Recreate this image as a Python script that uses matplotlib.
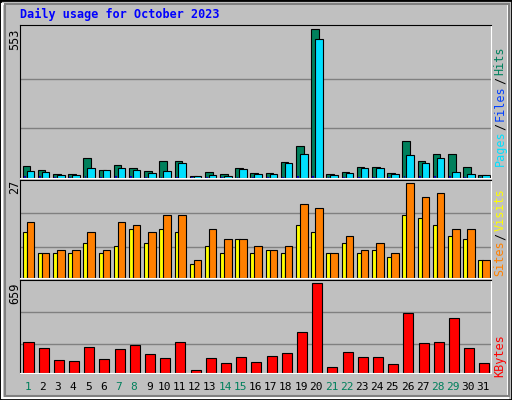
import matplotlib.pyplot as plt
import numpy as np
from matplotlib.patches import Rectangle

days = np.arange(1, 32)
hits = [46, 31, 16, 16, 74, 31, 50, 39, 27, 65, 65, 9, 24, 16, 39, 20, 20, 61, 118, 553,
        16, 24, 42, 42, 20, 136, 65, 91, 91, 42, 12]
files = [27, 24, 12, 12, 39, 31, 39, 31, 20, 27, 57, 9, 12, 9, 35, 16, 16, 57, 91, 519,
         12, 20, 39, 39, 16, 87, 57, 76, 24, 16, 12]
pages = [6, 6, 4, 4, 6, 4, 6, 6, 5, 5, 5, 3, 4, 4, 5, 4, 4, 5, 7, 7,
         4, 5, 5, 5, 4, 7, 6, 6, 6, 5, 4]
visits = [16, 7, 8, 8, 13, 8, 16, 15, 13, 18, 18, 5, 14, 11, 11, 9, 8, 9, 21, 20,
          7, 12, 8, 10, 7, 27, 23, 24, 14, 14, 5]
sites = [13, 7, 7, 7, 10, 7, 9, 14, 10, 14, 13, 4, 9, 7, 11, 7, 8, 7, 15, 13,
         7, 10, 7, 8, 6, 18, 17, 15, 12, 11, 5]
kbytes = [226, 183, 96, 89, 190, 103, 176, 204, 139, 111, 226, 24, 111, 75, 118, 82, 125, 147, 298, 659,
          46, 154, 118, 118, 67, 435, 219, 226, 399, 183, 75]
weekend = [1, 7, 8, 14, 15, 21, 22, 28, 29]

W, H = 512, 400
fig = plt.figure(figsize=(W / 100, H / 100), dpi=100)
fig.patch.set_facecolor('#C0C0C0')
mono = 'DejaVu Sans Mono'

# 3D-ish frame around the image
fig.add_artist(Rectangle((0, 0), 1, 1, transform=fig.transFigure, fill=False, ec='black', lw=2))
fig.add_artist(Rectangle((2 / W, 2 / H), 1 - 6 / W, 1 - 6 / H, transform=fig.transFigure,
                         fill=False, ec='white', lw=1.5))
fig.add_artist(Rectangle((5 / W, 4 / H), 1 - 8 / W, 1 - 8 / H, transform=fig.transFigure,
                         fill=False, ec='#808080', lw=1.5))


def make_ax(top, bottom):
    ax = fig.add_axes([20 / W, 1 - bottom / H, 471 / W, (bottom - top) / H])
    ax.set_facecolor('#C0C0C0')
    ax.set_xlim(0.5, 31.5)
    ax.set_xticks([])
    ax.set_yticks([])
    for s in ['top', 'left']:
        ax.spines[s].set_color('black')
    for s in ['bottom', 'right']:
        ax.spines[s].set_color('white')
    return ax


bar_kw = dict(edgecolor='black', linewidth=0.8, align='edge')

ax1 = make_ax(25, 178)
top1 = max(hits)
ax1.set_ylim(0, top1 * 1.03)
for g in (1 / 3, 2 / 3):
    ax1.axhline(top1 * g, color='#808080', lw=1, zorder=0)
ax1.bar(days - 0.33, hits, 0.5, color='#00805C', **bar_kw)
ax1.bar(days - 0.07, files, 0.5, color='#00E0FF', **bar_kw)
ax1.bar(days - 0.25, pages, 0.12, color='#0000C0', linewidth=0, align='edge')

ax2 = make_ax(180, 278)
top2 = max(visits)
ax2.set_ylim(0, top2 * 1.03)
for g in (0.33, 0.68):
    ax2.axhline(top2 * g, color='#808080', lw=1, zorder=0)
ax2.bar(days - 0.33, sites, 0.3, color='#FFFF00', **bar_kw)
ax2.bar(days - 0.07, visits, 0.5, color='#FF8000', **bar_kw)

ax3 = make_ax(280, 373)
top3 = max(kbytes)
ax3.set_ylim(0, top3 * 1.03)
for g in (0.32, 0.68):
    ax3.axhline(top3 * g, color='#808080', lw=1, zorder=0)
ax3.bar(days - 0.27, kbytes, 0.66, color='#FF0000', **bar_kw)

for d in days:
    ax3.text(d, -0.1, str(d), transform=ax3.get_xaxis_transform(), ha='center', va='top',
             fontsize=8, family=mono, color='#00805C' if d in weekend else 'black')

fig.text(20 / W, 1 - 14 / H, 'Daily usage for October 2023', color='#0000FF', fontsize=8.5,
         fontweight='bold', family=mono, va='center')

for y, v in [(29, top1), (180, top2), (283, top3)]:
    fig.text(15 / W, 1 - y / H, str(v), rotation=90, ha='center', va='top', fontsize=8.5, family=mono)


def side_label(parts, y_bottom):
    y = y_bottom
    for txt, col in parts:
        fig.text(500 / W, 1 - y / H, txt, rotation=90, ha='center', va='bottom',
                 fontsize=8.5, family=mono, color=col)
        y -= len(txt) * 6.9 + 2


side_label([('Pages', '#00E0FF'), ('/', 'black'), ('Files', '#0040FF'), ('/', 'black'), ('Hits', '#00805C')], 166)
side_label([('Sites', '#FF8000'), ('/', 'black'), ('Visits', '#FFFF00')], 276)
side_label([('KBytes', '#FF0000')], 377)

fig.savefig('out.png', dpi=100, facecolor=fig.get_facecolor())
